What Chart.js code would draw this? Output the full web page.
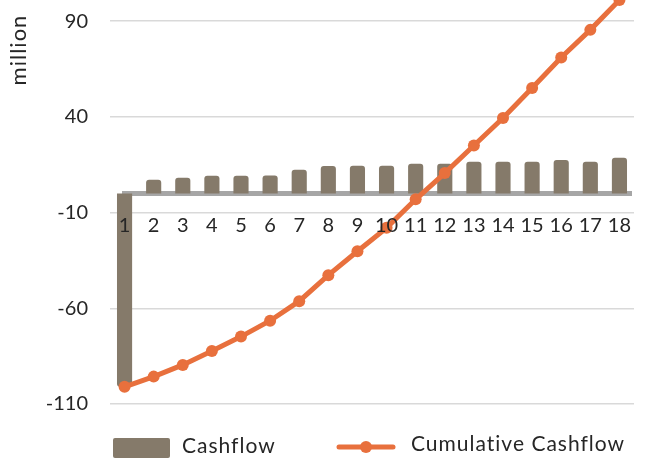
<!DOCTYPE html>
<html>
<head>
<meta charset="utf-8">
<script src="https://cdn.jsdelivr.net/npm/chart.js@4/dist/chart.umd.min.js"></script>
<style>
  html, body { margin: 0; padding: 0; background: #fff; }
  canvas { display: block; }
</style>
</head>
<body>
<canvas id="cfCanv" width="648" height="459"></canvas>
<script>
/* data */
const years = ['1','2','3','4','5','6','7','8','9','10','11','12','13','14','15','16','17','18']
const cashflow = [-101, 7.1, 8.2, 9.2, 9.2, 9.4, 12.3, 14.3, 14.4, 14.4, 15.5, 15.5, 16.5, 16.5, 16.5, 17.5, 16.5, 18.6]
const cumulative = [-101, -95.7, -89.6, -82.3, -74.8, -66.5, -56.3, -42.7, -30.2, -18, -3.1, 10.6, 25, 39.4, 55, 71, 85.4, 101]
const yTicks = [-110, -60, -10, 40, 90]
const seriesNames = ['Cashflow', 'Cumulative Cashflow']

const BAR_COLOR = '#857A6A'
const LINE_COLOR = '#E8703D'
const TEXT_COLOR = '#262626'
const FONT = 'Lato, "DejaVu Sans", sans-serif'

/* zero axis drawn between the bars and the line */
const zeroLine = {
  id: 'zeroLine',
  beforeDatasetDraw(chart, args) {
    if (args.index !== 1) return
    const y = chart.scales.y.getPixelForValue(0)
    const area = chart.chartArea
    const ctx = chart.ctx
    ctx.save()
    ctx.strokeStyle = '#A6A6A6'
    ctx.lineWidth = 5
    ctx.beginPath()
    ctx.moveTo(area.left + 12, y)
    ctx.lineTo(area.right - 2, y)
    ctx.stroke()
    ctx.restore()
  }
}

/* axis title and legend */
const extras = {
  id: 'extras',
  afterDraw(chart) {
    const ctx = chart.ctx
    ctx.save()
    // y title
    ctx.translate(19, 50)
    ctx.rotate(-Math.PI / 2)
    ctx.fillStyle = TEXT_COLOR
    ctx.font = '22px ' + FONT
    ctx.letterSpacing = '1px'
    ctx.textAlign = 'center'
    ctx.textBaseline = 'middle'
    ctx.fillText('million', 0, 0)
    ctx.restore()

    ctx.save()
    ctx.font = '21px ' + FONT
    ctx.fillStyle = TEXT_COLOR
    ctx.textBaseline = 'middle'
    ctx.letterSpacing = '1px'
    // bar entry
    ctx.fillStyle = BAR_COLOR
    ctx.beginPath()
    ctx.roundRect(113, 438, 57, 20, 2)
    ctx.fill()
    ctx.fillStyle = TEXT_COLOR
    ctx.fillText(seriesNames[0], 182, 446)
    // line entry
    ctx.strokeStyle = LINE_COLOR
    ctx.lineWidth = 5
    ctx.lineCap = 'round'
    ctx.beginPath()
    ctx.moveTo(339, 447)
    ctx.lineTo(393, 447)
    ctx.stroke()
    ctx.fillStyle = LINE_COLOR
    ctx.beginPath()
    ctx.arc(366, 447, 6, 0, Math.PI * 2)
    ctx.fill()
    ctx.fillStyle = TEXT_COLOR
    ctx.fillText(seriesNames[1], 411, 444)
    ctx.restore()
  }
}

const ctx = document.getElementById('cfCanv')
const cfChart = new Chart(ctx, {
  type: 'bar',
  data: {
    labels: years,
    datasets: [{
        type: 'line',
        label: seriesNames[1],
        data: cumulative,
        borderColor: LINE_COLOR,
        backgroundColor: LINE_COLOR,
        borderWidth: 5,
        pointRadius: 6,
        pointBorderWidth: 0,
        pointBackgroundColor: LINE_COLOR,
        tension: 0,
        clip: false,
        order: 0
      },
      {
        type: 'bar',
        label: seriesNames[0],
        data: cashflow,
        backgroundColor: BAR_COLOR,
        barPercentage: 0.52,
        categoryPercentage: 1,
        borderRadius: 3,
        order: 1
      }
    ]
  },
  options: {
    responsive: false,
    animation: false,
    layout: {
      autoPadding: false,
      padding: { left: 0, right: 14, top: 0, bottom: 55 }
    },
    plugins: {
      legend: { display: false },
      tooltip: { enabled: false }
    },
    scales: {
      x: {
        position: { y: 0 },
        grid: { display: false, drawTicks: false },
        border: { display: false },
        ticks: {
          z: 1,
          color: TEXT_COLOR,
          font: { family: FONT, size: 20 },
          padding: 20,
          maxRotation: 0,
          autoSkip: false
        },
        afterFit(scale) {
          scale.paddingLeft = 0
          scale.paddingRight = 0
        }
      },
      y: {
        min: -110,
        max: 101,
        grid: { color: '#D9D9D9', lineWidth: 1.5, drawTicks: false },
        border: { display: false },
        ticks: {
          color: TEXT_COLOR,
          font: { family: FONT, size: 20 },
          padding: 22
        },
        afterBuildTicks(scale) {
          scale.ticks = yTicks.map(v => ({ value: v }))
        },
        afterFit(scale) {
          scale.width = 110
          scale.paddingTop = 0
          scale.paddingBottom = 0
        }
      }
    }
  },
  plugins: [zeroLine, extras]
})
</script>
</body>
</html>
